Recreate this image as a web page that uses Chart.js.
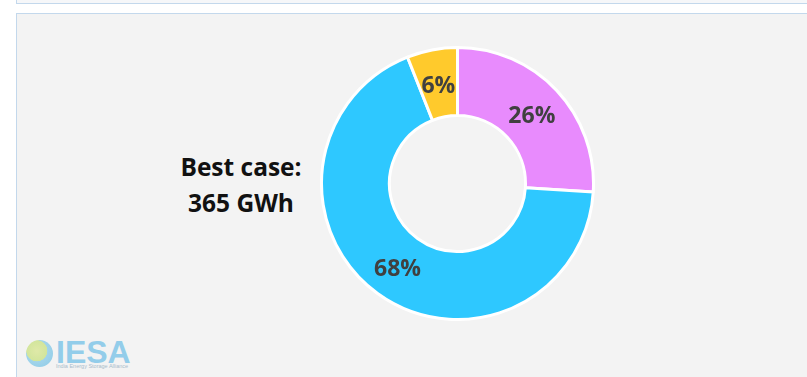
<!DOCTYPE html>
<html>
<head>
<meta charset="utf-8">
<script src="https://cdn.jsdelivr.net/npm/chart.js@4/dist/chart.umd.min.js"></script>
<style>
  html,body{margin:0;padding:0;background:#fff;width:807px;height:377px;overflow:hidden;font-family:"Open Sans",sans-serif;}
  #topbox{position:absolute;left:16px;top:-10px;width:800px;height:12px;background:#f6f7f9;border:1.5px solid #c3d8ec;}
  #panel{position:absolute;left:16px;top:13px;width:800px;height:380px;background:#f3f3f3;border:1.5px solid #c3d8ec;}
  #wrap{position:absolute;left:320px;top:46px;width:275px;height:275px;}
  #note{position:absolute;left:150px;top:149px;width:182px;text-align:center;font-weight:700;font-size:24.5px;line-height:36px;color:#111;}
  #logo{position:absolute;left:26px;top:337px;width:110px;height:32px;}
  #globe{position:absolute;left:0;top:3px;width:27px;height:27px;border-radius:50%;background:radial-gradient(circle at 40% 40%,#dfe9a8 0%,#d2e59c 45%,#a2d4ea 47%,#8ccbe8 100%);}
  #iesa{position:absolute;left:30px;top:-3px;font-family:"Liberation Sans",Arial,sans-serif;font-weight:700;font-size:32px;line-height:37px;color:#93cdea;}
  #tag{position:absolute;left:30px;top:26px;font-size:5.5px;color:#a9bccb;white-space:nowrap;font-family:"Liberation Sans",sans-serif;}
</style>
</head>
<body>
<div id="topbox"></div>
<div id="panel"></div>
<div id="note">Best case:<br>365 GWh</div>
<div id="logo"><div id="globe"></div><div id="iesa">IESA</div><div id="tag">India Energy Storage Alliance</div></div>
<div id="wrap"><canvas id="c"></canvas></div>
<script>
const categories = ["Segment A", "Segment B", "Segment C"];
const shares = [26, 68, 6];
const labels = ["26%", "68%", "6%"];
const colors = ["#e88bfd", "#2ec8ff", "#ffca2c"];

const labelPlugin = {
  id: "arcLabels",
  afterDatasetsDraw(chart) {
    const ctx = chart.ctx;
    const meta = chart.getDatasetMeta(0);
    ctx.save();
    ctx.font = "bold 23px 'Open Sans', sans-serif";
    ctx.fillStyle = "#404040";
    ctx.textAlign = "center";
    ctx.textBaseline = "middle";
    meta.data.forEach((arc, i) => {
      const p = arc.tooltipPosition();
      ctx.fillText(labels[i], p.x, p.y + 3);
    });
    ctx.restore();
  }
};

new Chart(document.getElementById("c"), {
  type: "doughnut",
  data: {
    labels: categories,
    datasets: [{
      data: shares,
      backgroundColor: colors,
      borderColor: "#ffffff",
      borderWidth: 3
    }]
  },
  options: {
    responsive: true,
    maintainAspectRatio: false,
    animation: false,
    cutout: "50%",
    layout: { padding: 0 },
    plugins: { legend: { display: false }, tooltip: { enabled: false } }
  },
  plugins: [labelPlugin]
});
</script>
</body>
</html>
